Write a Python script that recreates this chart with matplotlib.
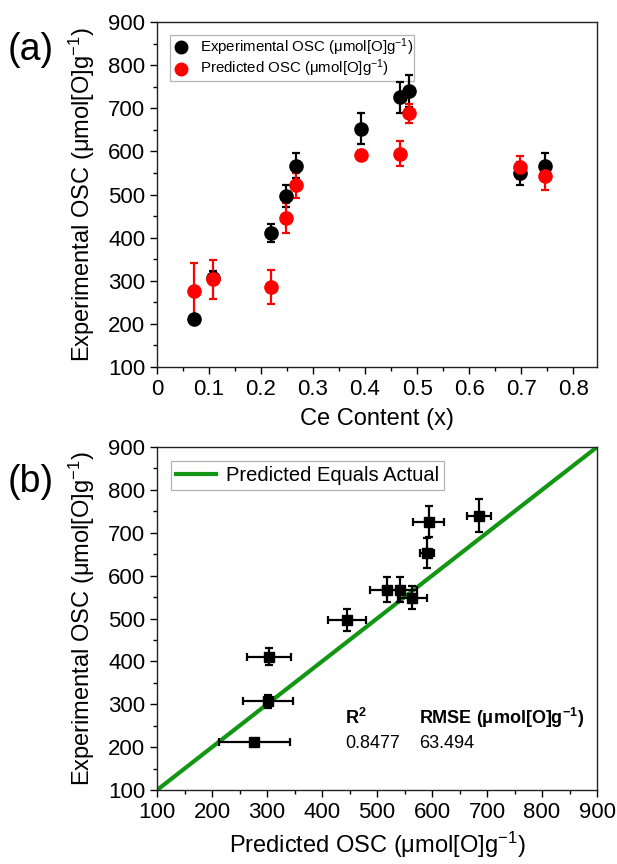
import matplotlib
matplotlib.use("Agg")
import matplotlib.pyplot as plt
from matplotlib.lines import Line2D
from matplotlib.ticker import MultipleLocator, AutoMinorLocator

plt.rcParams['font.family'] = ['Liberation Sans', 'DejaVu Sans']
plt.rcParams['mathtext.fontset'] = 'custom'
plt.rcParams['mathtext.rm'] = 'Liberation Sans'
plt.rcParams['mathtext.it'] = 'Liberation Sans:italic'
plt.rcParams['mathtext.bf'] = 'Liberation Sans:bold'

# Ce content and OSC values
ce_content = [0.072, 0.107, 0.220, 0.248, 0.268, 0.393, 0.468, 0.484, 0.698, 0.746]
exp_osc = [212, 307, 411, 497, 567, 653, 726, 740, 549, 567]
exp_err = [8, 15, 20, 25, 29, 35, 36, 38, 26, 29]
pred_osc = [277, 303, 285, 446, 521, 592, 595, 688, 563, 542]
pred_err = [65, 45, 40, 35, 30, 12, 28, 22, 26, 31]

# panel (b) x positions (predicted) as drawn there
pred_osc_b = [277, 302, 304, 445, 518, 591, 594, 686, 564, 541]

unit = r"($\mathregular{\mu mol[O]g^{-1}}$)"

fig = plt.figure(figsize=(6.17, 8.64), dpi=100)

# ---------- (a) ----------
ax1 = fig.add_axes([0.2545, 0.5752, 0.7131, 0.3993])
ax1.errorbar(ce_content, exp_osc, yerr=exp_err, fmt='o', color='black',
             markersize=9.5, elinewidth=1.6, capsize=3, capthick=1.6, zorder=3)
ax1.errorbar(ce_content, pred_osc, yerr=pred_err, fmt='o', color='#ff0000',
             markersize=9.5, elinewidth=1.6, capsize=3, capthick=1.6, zorder=3)
ax1.set_xlim(0, 0.846)
ax1.set_ylim(100, 900)
ax1.yaxis.set_major_locator(MultipleLocator(100))
ax1.yaxis.set_minor_locator(AutoMinorLocator(2))
ax1.set_xticks([0, 0.1, 0.2, 0.3, 0.4, 0.5, 0.6, 0.7, 0.8])
ax1.set_xticklabels(['0', '0.1', '0.2', '0.3', '0.4', '0.5', '0.6', '0.7', '0.8'])
ax1.xaxis.set_minor_locator(MultipleLocator(0.05))
ax1.set_xlabel("Ce Content (x)", fontsize=17, labelpad=6)
ax1.set_ylabel("Experimental OSC " + unit, fontsize=17, labelpad=8)
handles = [Line2D([], [], marker='o', color='black', linestyle='none', markersize=9),
           Line2D([], [], marker='o', color='#ff0000', linestyle='none', markersize=9)]
leg = ax1.legend(handles, ["Experimental OSC " + unit, "Predicted OSC " + unit],
                 loc='upper left', fontsize=10.8, frameon=True, fancybox=False,
                 edgecolor='#a0a0a0', handletextpad=0.6, borderpad=0.1,
                 labelspacing=0.0, handlelength=1.3, handleheight=0.5,
                 bbox_to_anchor=(0.012, 0.985))
leg.get_frame().set_linewidth(0.9)
leg.set_zorder(1)
fig.text(0.012, 0.93, "(a)", fontsize=27)

# ---------- (b) ----------
ax2 = fig.add_axes([0.2545, 0.0856, 0.7131, 0.397])
ax2.plot([100, 900], [100, 900], color='#139613', linewidth=3,
         label="Predicted Equals Actual", zorder=2)
ax2.errorbar(pred_osc_b, exp_osc, xerr=pred_err, yerr=exp_err, fmt='s',
             color='black', markersize=7.5, elinewidth=1.6, capsize=3,
             capthick=1.6, zorder=3)
ax2.set_xlim(100, 900)
ax2.set_ylim(100, 900)
ax2.xaxis.set_major_locator(MultipleLocator(100))
ax2.xaxis.set_minor_locator(AutoMinorLocator(2))
ax2.yaxis.set_major_locator(MultipleLocator(100))
ax2.yaxis.set_minor_locator(AutoMinorLocator(2))
ax2.set_xlabel("Predicted OSC " + unit, fontsize=17, labelpad=5)
ax2.set_ylabel("Experimental OSC " + unit, fontsize=17, labelpad=8)
leg2 = ax2.legend(loc='upper left', fontsize=14.5, frameon=True, fancybox=False,
                  edgecolor='#a0a0a0', handlelength=2.0, handletextpad=0.5,
                  borderpad=0.25, bbox_to_anchor=(0.008, 0.99))
leg2.get_frame().set_linewidth(0.9)
ax2.text(442, 255, r"$\mathbf{R^2}$", fontsize=13)
ax2.text(442, 197, "0.8477", fontsize=13)
ax2.text(577, 255, r"$\mathbf{RMSE\ (\mu mol[O]g^{-1})}$", fontsize=13)
ax2.text(577, 197, "63.494", fontsize=13)
fig.text(0.012, 0.43, "(b)", fontsize=27)

for ax in (ax1, ax2):
    ax.tick_params(which='major', direction='out', length=5, width=1,
                   labelsize=16, top=False, right=False)
    ax.tick_params(which='minor', direction='out', length=3, width=1,
                   top=False, right=False)
    for s in ax.spines.values():
        s.set_linewidth(1.0)
        s.set_color('#222222')

fig.savefig("out.png", dpi=100)
